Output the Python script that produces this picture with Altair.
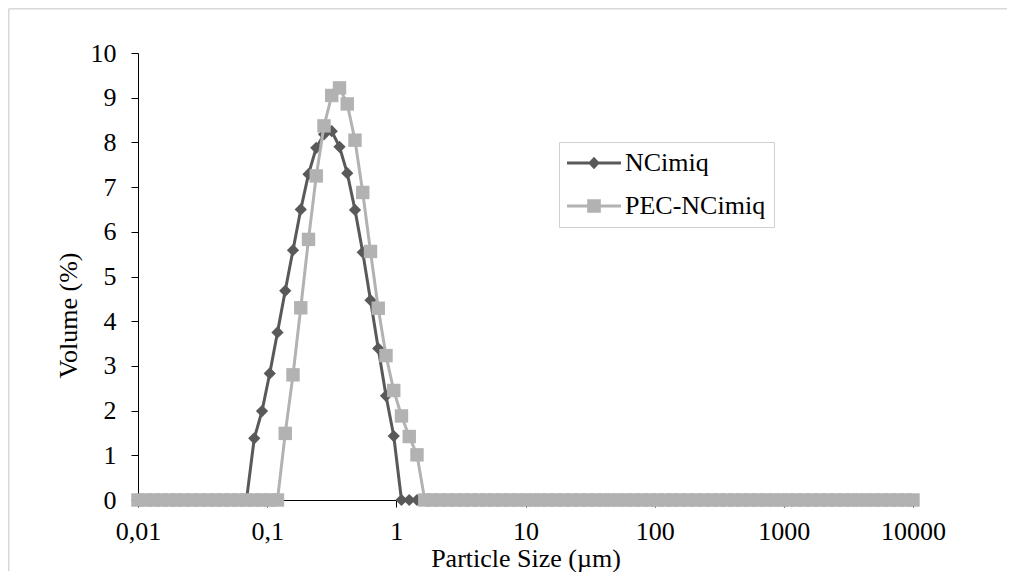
import altair as alt
import pandas as pd

# Particle size bins (µm)
sizes = [
    0.01, 0.01148, 0.01318, 0.01514, 0.01738, 0.01995, 0.02291, 0.0263, 0.0302, 0.03467,
    0.03981, 0.04571, 0.05248, 0.06026, 0.06918, 0.07943, 0.0912, 0.1047, 0.1202, 0.138,
    0.1585, 0.182, 0.2089, 0.2399, 0.2754, 0.3162, 0.3631, 0.4169, 0.4786, 0.5495,
    0.631, 0.7244, 0.8318, 0.955, 1.096, 1.259, 1.445, 1.66, 1.905, 2.188,
    2.512, 2.884, 3.311, 3.802, 4.365, 5.012, 5.754, 6.607, 7.586, 8.71,
    10.0, 11.48, 13.18, 15.14, 17.38, 19.95, 22.91, 26.3, 30.2, 34.67,
    39.81, 45.71, 52.48, 60.26, 69.18, 79.43, 91.2, 104.7, 120.2, 138.0,
    158.5, 182.0, 208.9, 239.9, 275.4, 316.2, 363.1, 416.9, 478.6, 549.5,
    631.0, 724.4, 831.8, 955.0, 1096, 1259, 1445, 1660, 1905, 2188,
    2512, 2884, 3311, 3802, 4365, 5012, 5754, 6607, 7586, 8710,
    10000,
]

ncimiq = [0.0] * 15 + [
    1.38, 1.99, 2.83, 3.75, 4.68, 5.59, 6.50, 7.29, 7.88, 8.18,
    8.25, 7.90, 7.31, 6.49, 5.54, 4.47, 3.39, 2.33, 1.43,
] + [0.0] * 67

pec_ncimiq = [0.0] * 19 + [
    1.49, 2.80, 4.30, 5.83, 7.25, 8.37, 9.05, 9.22, 8.86, 8.05,
    6.88, 5.56, 4.29, 3.23, 2.45, 1.88, 1.42, 1.01,
] + [0.0] * 64

series_names = ["NCimiq", "PEC-NCimiq"]
series_colors = ["#595959", "#b2b2b2"]
x_ticks = [0.01, 0.1, 1, 10, 100, 1000, 10000]
y_ticks = list(range(0, 11))

df = pd.DataFrame({
    "size": sizes + sizes,
    "volume": ncimiq + pec_ncimiq,
    "series": [series_names[0]] * len(sizes) + [series_names[1]] * len(sizes),
})

FONT = "Liberation Serif"
W, H = 775, 447

# legend symbols: line segment + marker
line_part = "M-4.15,-0.23 L4.15,-0.23 L4.15,0.23 L-4.15,0.23 Z "
path_nc = line_part + "M0,-0.95 L0.9,0 L0,0.95 L-0.9,0 Z"
path_pec = line_part + "M-1.05,-1.05 L1.05,-1.05 L1.05,1.05 L-1.05,1.05 Z"

x_enc = alt.X(
    "size:Q",
    scale=alt.Scale(type="log", domain=[0.01, 10000], nice=False),
    axis=alt.Axis(
        values=x_ticks,
        labelExpr="replace(toString(datum.value), '.', ',')",
        tickSize=7, labelPadding=11, grid=False,
        domainColor="black", tickColor="black", domainWidth=1,
        labelFont=FONT, labelFontSize=26, labelColor="black",
        labelFlush=False, labelOverlap=False,
        title="Particle Size (µm)", titleFont=FONT, titleFontSize=26,
        titleFontWeight="normal", titleColor="black",
        titleBaseline="alphabetic", titleY=66,
    ),
)
y_enc = alt.Y(
    "volume:Q",
    scale=alt.Scale(domain=[0, 10], nice=False),
    axis=alt.Axis(
        values=y_ticks, format="d",
        tickSize=7, labelPadding=15, grid=False,
        domainColor="black", tickColor="black", domainWidth=1,
        labelFont=FONT, labelFontSize=26, labelColor="black",
        title="Volume (%)", titleFont=FONT, titleFontSize=26,
        titleFontWeight="normal", titleColor="black",
        titleAngle=-90, titleBaseline="alphabetic", titleAlign="center",
        titleX=-62, titleY=262,
    ),
)

base = alt.Chart(df).encode(x=x_enc, y=y_enc)

nc = base.transform_filter(alt.datum.series == series_names[0])
pec = base.transform_filter(alt.datum.series == series_names[1])

nc_line = nc.mark_line(color=series_colors[0], strokeWidth=3)
nc_pts = nc.mark_point(shape="diamond", filled=True, size=150,
                       color=series_colors[0], opacity=1)
pec_line = pec.mark_line(color=series_colors[1], strokeWidth=3)
pec_pts = pec.mark_point(shape="square", filled=True, size=180,
                         color=series_colors[1], opacity=1)

legend_def = alt.Legend(
    title=None, orient="none", legendX=421, legendY=89,
    padding=8, strokeColor="#d0d0d0", fillColor="white",
    labelFont=FONT, labelFontSize=26, labelColor="black", labelLimit=0,
    symbolSize=169, symbolStrokeWidth=0, symbolOpacity=1,
    symbolOffset=14, labelOffset=18, rowPadding=17,
)
legend_layer = base.mark_point(filled=True, opacity=0, size=1).encode(
    color=alt.Color("series:N",
                    scale=alt.Scale(domain=series_names, range=series_colors),
                    legend=legend_def),
    shape=alt.Shape("series:N",
                    scale=alt.Scale(domain=series_names, range=[path_nc, path_pec]),
                    legend=legend_def),
)

frame_src = alt.Chart(alt.Data(values=[{"k": 1}]))
frame_top = frame_src.mark_rule(color="#d9d9d9", strokeWidth=1.5, clip=False).encode(
    x=alt.value(-129.25), x2=alt.value(W + 94), y=alt.value(-44.25),
)
frame_left = frame_src.mark_rule(color="#d9d9d9", strokeWidth=1.5, clip=False).encode(
    x=alt.value(-129.25), y=alt.value(-44.25), y2=alt.value(H + 71),
)

chart = alt.layer(frame_top, frame_left, nc_line, nc_pts, pec_line, pec_pts,
                  legend_layer).properties(
    width=W, height=H,
    autosize=alt.AutoSizeParams(type="none"),
    padding={"left": 130, "top": 45, "right": 95, "bottom": 72},
    background="white",
).configure_view(stroke="transparent")

chart.save("out.html", embed_options={"renderer": "svg", "actions": False})
